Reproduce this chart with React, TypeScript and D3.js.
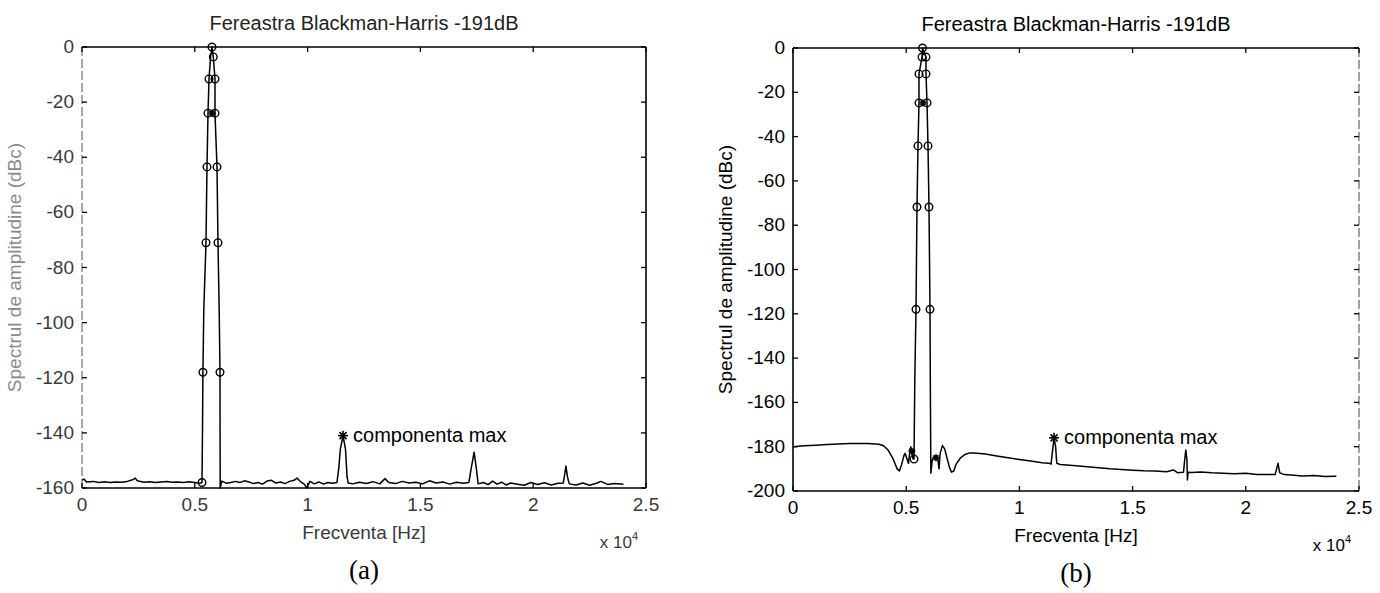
import React from 'react';
import * as d3 from 'd3';

// ---------- text ----------
const titleText = 'Fereastra Blackman-Harris -191dB';
const xLabelText = 'Frecventa [Hz]';
const yLabelText = 'Spectrul de amplitudine (dBc)';
const annotText = 'componenta max';
const panelTags = ['(a)', '(b)'];

// ---------- ticks ----------
const xTickValues = [0, 5000, 10000, 15000, 20000, 25000];
const xTickLabels = ['0', '0.5', '1', '1.5', '2', '2.5'];
const yTicksA = [0, -20, -40, -60, -80, -100, -120, -140, -160];
const yTicksB = [0, -20, -40, -60, -80, -100, -120, -140, -160, -180, -200];

// ---------- panel (a) spectrum ----------
const freqA = [
  0, 100, 200, 500, 750, 1000, 1250, 1500, 1750, 2000, 2250, 2350, 2450, 2750, 3000, 3250, 3500, 3750,
  4000, 4250, 4500, 4750, 5000, 5200, 5319, 5340, 5360, 5400, 5496, 5540, 5585, 5630, 5700, 5760,
  5820, 5895, 5895, 5984, 6028, 6080, 6117, 6120, 6125, 6200, 6400, 6600, 6800, 7000, 7200, 7400,
  7600, 7800, 8000, 8200, 8400, 8600, 8800, 9000, 9200, 9400, 9530, 9700, 9850, 9970, 10100, 10300,
  10500, 10700, 10900, 11100, 11300, 11380, 11450, 11570, 11680, 11750, 11800, 12000, 12300, 12600,
  12900, 13200, 13430, 13600, 13900, 14200, 14500, 14800, 15100, 15400, 15700, 16000, 16300, 16600,
  16900, 17150, 17250, 17380, 17480, 17560, 17800, 18000, 18200, 18400, 18600, 18800, 19000, 19300,
  19600, 19900, 20200, 20500, 20800, 21100, 21330, 21400, 21450, 21520, 21600, 21900, 22200, 22500,
  22800, 23000, 23300, 23600, 24000,
];
const dbA = [
  -157.0, -156.8, -157.8, -157.6, -158.0, -157.7, -158.0, -157.8, -157.9, -157.6, -157.0, -156.4, -157.4, -157.9, -157.7, -158.0, -157.8, -157.6,
  -157.9, -157.8, -158.0, -157.7, -158.0, -158.3, -158.0, -140, -118, -95, -71, -43.5, -24, -11.6, -3.6, 0,
  -3.6, -11.6, -24, -43.5, -71, -95, -118, -140, -160, -157.5, -158.3, -158.0, -157.6, -158.0, -157.4, -157.8,
  -158.4, -158.0, -158.6, -157.5, -157.2, -158.2, -157.8, -158.4, -157.6, -157.2, -156.4, -157.8, -158.6, -160, -157.6, -158.5,
  -157.8, -158.6, -158.0, -158.3, -158.0, -153, -146, -141, -146, -156, -158.2, -158.5, -157.9, -158.4,
  -157.7, -158.5, -156.6, -158.0, -158.4, -157.6, -158.2, -157.9, -158.5, -157.4, -158.2, -157.8, -158.6, -157.9,
  -158.3, -158.0, -153, -147, -153, -158.5, -158.0, -158.8, -157.5, -158.6, -157.9, -158.9, -158.2, -158.6,
  -159.0, -158.0, -158.7, -158.1, -158.9, -158.3, -158.2, -155, -152, -156, -158.5, -158.9, -158.2, -159.0,
  -158.3, -157.6, -158.7, -158.4, -158.6,
];
const circFreqA = [5760, 5820, 5630, 5895, 5585, 5895, 5540, 5984, 5496, 6028, 5360, 6117, 5319];
const circDbA = [0, -3.6, -11.6, -11.6, -24, -24, -43.5, -43.5, -71, -71, -118, -118, -158];
const starFreqA = [11570, 5760];
const starDbA = [-141, -24];

// ---------- panel (b) spectrum ----------
const freqB = [
  0, 500, 1000, 1500, 2000, 2500, 3000, 3300, 3800, 4000, 4200, 4400, 4600, 4700, 4800, 4900, 4950,
  5050, 5100, 5150, 5200, 5250, 5300, 5345, 5380, 5433, 5477, 5521, 5565, 5565, 5698, 5720, 5875,
  5875, 5919, 5963, 6007, 6051, 6070, 6090, 6150, 6250, 6300, 6350, 6400, 6450, 6500, 6600, 6700,
  6800, 6900, 7000, 7100, 7200, 7400, 7600, 7800, 8000, 8500, 9000, 9500, 10000, 10500, 11000, 11300,
  11400, 11450, 11530, 11600, 11650, 11800, 12500, 13000, 13500, 14000, 14500, 15000, 15500, 16000,
  16500, 16800, 17000, 17250, 17300, 17350, 17400, 17420, 17450, 17600, 18000, 18500, 19000, 19500,
  20000, 20500, 21000, 21300, 21420, 21500, 21700, 22000, 22500, 23000, 23500, 24000,
];
const dbB = [
  -180.0, -179.6, -179.3, -179.0, -178.8, -178.6, -178.5, -178.5, -178.9, -179.6, -181.5, -185, -190, -191, -188, -184, -183,
  -186, -187.5, -183, -180, -183, -185.5, -185.6, -150, -118, -71.8, -44.2, -24.8, -11.7, -4.1, 0, -4.1,
  -11.7, -24.8, -44.2, -71.8, -118, -160, -192, -186, -184, -185, -184, -186, -190, -183, -179.5, -181,
  -185, -189, -191.5, -191, -188, -185, -183.5, -182.8, -182.8, -183.3, -184.2, -185, -185.8, -186.5, -187.2, -187.5,
  -187.8, -183, -176, -180, -187.5, -188, -188.6, -189, -189.5, -190, -190.3, -190.6, -190.9, -191,
  -191.3, -190.5, -191.8, -191.5, -186, -181.5, -186, -195, -191.5, -191.6, -191.4, -191.8, -192, -192.2,
  -192, -192.5, -192.6, -192.5, -187.5, -191.8, -192.6, -192.8, -193.2, -193, -193.4, -193.3,
];
const circFreqB = [5720, 5698, 5875, 5565, 5875, 5565, 5919, 5521, 5963, 5477, 6007, 5433, 6051, 5345];
const circDbB = [0, -4.1, -4.1, -11.7, -11.7, -24.8, -24.8, -44.2, -44.2, -71.8, -71.8, -118, -118, -185.6];
const starFreqB = [11530, 5740, 6316, 5250];
const starDbB = [-176, -24.8, -185, -182];

const FONT = '"Liberation Sans", Arial, Helvetica, sans-serif';

type PanelProps = {
  left: number; right: number; top: number; bottom: number;
  yMin: number; yTicks: number[];
  freq: number[]; db: number[];
  circF: number[]; circD: number[];
  starF: number[]; starD: number[];
  tag: string; faded: boolean; tickSize: number;
};

function Star({ x, y, s }: { x: number; y: number; s: number }) {
  const d = s * 0.7;
  return (
    <g stroke="#000" strokeWidth={1.6}>
      <line x1={x - s} y1={y} x2={x + s} y2={y} />
      <line x1={x} y1={y - s} x2={x} y2={y + s} />
      <line x1={x - d} y1={y - d} x2={x + d} y2={y + d} />
      <line x1={x - d} y1={y + d} x2={x + d} y2={y - d} />
    </g>
  );
}

function Panel(p: PanelProps) {
  const x = d3.scaleLinear().domain([0, 25000]).range([p.left, p.right]);
  const y = d3.scaleLinear().domain([p.yMin, 0]).range([p.bottom, p.top]);
  const pts = p.freq.map((f, i) => [f, p.db[i]] as [number, number]);
  const line = d3.line<[number, number]>().x((d) => x(d[0])).y((d) => y(d[1]));
  const cx = (p.left + p.right) / 2;
  const cy = (p.top + p.bottom) / 2;
  const txt = p.faded ? '#3a3a3a' : '#000';
  const ylabCol = p.faded ? '#8a8a8a' : '#000';
  const tl = 5;
  const annX = x(p.starF[0]) + 10;
  const annY = y(p.starD[0]) + 6;
  return (
    <g fontFamily={FONT}>
      {/* title */}
      <text x={cx} y={p.top - 17} textAnchor="middle" fontSize={20} fill={p.faded ? '#222' : '#000'}>{titleText}</text>
      {/* box */}
      <line x1={p.left} y1={p.top} x2={p.right} y2={p.top} stroke="#000" strokeWidth={1.4} />
      <line x1={p.left} y1={p.bottom} x2={p.right} y2={p.bottom} stroke="#000" strokeWidth={1.6} />
      <line x1={p.left} y1={p.top} x2={p.left} y2={p.bottom} stroke={p.faded ? '#666' : '#000'}
        strokeWidth={p.faded ? 1.1 : 1.6} strokeDasharray={p.faded ? '9,3' : undefined} />
      <line x1={p.right} y1={p.top} x2={p.right} y2={p.bottom} stroke={p.faded ? '#000' : '#555'}
        strokeWidth={p.faded ? 1.6 : 1.1} strokeDasharray={p.faded ? undefined : '9,3'} />
      {/* x ticks */}
      {xTickValues.map((v, i) => (
        <g key={'xt' + i}>
          <line x1={x(v)} y1={p.bottom} x2={x(v)} y2={p.bottom - tl} stroke="#000" strokeWidth={1.3} />
          <line x1={x(v)} y1={p.top} x2={x(v)} y2={p.top + tl} stroke="#000" strokeWidth={1.3} />
          <text x={x(v)} y={p.bottom + 23} textAnchor="middle" fontSize={p.tickSize} fill={txt}>{xTickLabels[i]}</text>
        </g>
      ))}
      {/* y ticks */}
      {p.yTicks.map((v, i) => (
        <g key={'yt' + i}>
          <line x1={p.left} y1={y(v)} x2={p.left + tl} y2={y(v)} stroke="#000" strokeWidth={1.3} />
          <line x1={p.right} y1={y(v)} x2={p.right - tl} y2={y(v)} stroke="#000" strokeWidth={1.3} />
          <text x={p.left - 8} y={y(v) + 6} textAnchor="end" fontSize={p.tickSize} fill={txt}>{String(v)}</text>
        </g>
      ))}
      {/* labels */}
      <text x={cx} y={p.bottom + 51} textAnchor="middle" fontSize={19} fill={txt}>{xLabelText}</text>
      <text x={p.right - 8} y={p.bottom + 60} textAnchor="end" fontSize={17} fill={txt}>
        x 10<tspan dy={-8} fontSize={11}>4</tspan>
      </text>
      <text transform={`translate(${p.left - 61},${cy}) rotate(-90)`} textAnchor="middle"
        fontSize={19} fill={ylabCol}>{yLabelText}</text>
      <text x={cx} y={p.bottom + 91} textAnchor="middle" fontSize={27}
        fontFamily='"Liberation Serif", "Times New Roman", serif' fill="#000">{p.tag}</text>
      {/* spectrum */}
      <path d={line(pts) || ''} fill="none" stroke="#000" strokeWidth={1.5} strokeLinejoin="round" />
      {p.circF.map((f, i) => (
        <circle key={'c' + i} cx={x(f)} cy={y(p.circD[i])} r={3.8} fill="none" stroke="#000" strokeWidth={1.4} />
      ))}
      {p.starF.map((f, i) => (
        <Star key={'s' + i} x={x(f)} y={y(p.starD[i])} s={i === 0 ? 5 : 3.5} />
      ))}
      <text x={annX} y={annY} fontSize={20} fill="#000">{annotText}</text>
    </g>
  );
}

export default function App() {
  return (
    <svg width={1380} height={593} style={{ position: 'absolute', left: 0, top: 0, background: '#fff' }}>
      <rect x={0} y={0} width={1380} height={593} fill="#fff" />
      <Panel left={82} right={646} top={47} bottom={488} yMin={-160} yTicks={yTicksA}
        freq={freqA} db={dbA} circF={circFreqA} circD={circDbA} starF={starFreqA} starD={starDbA}
        tag={panelTags[0]} faded={true} tickSize={19} />
      <Panel left={793} right={1359} top={48} bottom={491} yMin={-200} yTicks={yTicksB}
        freq={freqB} db={dbB} circF={circFreqB} circD={circDbB} starF={starFreqB} starD={starDbB}
        tag={panelTags[1]} faded={false} tickSize={19} />
    </svg>
  );
}
